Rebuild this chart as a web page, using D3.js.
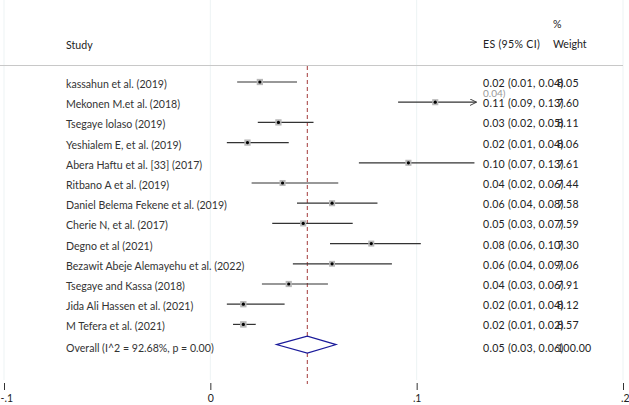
<!DOCTYPE html>
<html><head><meta charset="utf-8">
<script src="https://cdn.jsdelivr.net/npm/d3@7"></script>
<style>
html,body{margin:0;padding:0;background:#fff;}
svg{display:block;font-family:Lato,"Open Sans",sans-serif;}
</style></head>
<body>
<svg id="c" width="629" height="405"></svg>
<script>
const studies = ["kassahun et al. (2019)","Mekonen M.et al. (2018)","Tsegaye lolaso (2019)","Yeshialem E, et al. (2019)","Abera Haftu et al. [33]  (2017)","Ritbano A et al. (2019)","Daniel Belema Fekene et al.  (2019)","Cherie N, et al. (2017)","Degno et al (2021)","Bezawit Abeje Alemayehu et al. (2022)","Tsegaye and Kassa (2018)","Jida Ali Hassen et al. (2021)","M Tefera et al. (2021)"];
const es = [0.024,0.109,0.033,0.018,0.096,0.035,0.059,0.045,0.078,0.059,0.038,0.016,0.016];
const lo = [0.013,0.091,0.023,0.008,0.072,0.020,0.042,0.030,0.058,0.040,0.025,0.008,0.011];
const hi = [0.042,0.129,0.050,0.038,0.128,0.062,0.081,0.069,0.102,0.088,0.057,0.036,0.022];
const esText = ["0.02 (0.01, 0.04)","0.11 (0.09, 0.13)","0.03 (0.02, 0.05)","0.02 (0.01, 0.04)","0.10 (0.07, 0.13)","0.04 (0.02, 0.06)","0.06 (0.04, 0.08)","0.05 (0.03, 0.07)","0.08 (0.06, 0.10)","0.06 (0.04, 0.09)","0.04 (0.03, 0.06)","0.02 (0.01, 0.04)","0.02 (0.01, 0.02)"];
const weights = ["8.05","7.60","8.11","8.06","7.61","7.44","7.58","7.59","7.30","7.06","7.91","8.12","8.57"];
const arrowRows = [1];
const overall = {label:"Overall  (I^2 = 92.68%, p = 0.00)", es:0.047, lo:0.032, hi:0.061, text:"0.05 (0.03, 0.06)", weight:"100.00"};
const ticks = [-0.1,0,0.1,0.2];
const tickLabels = ["-.1","0",".1",".2"];

const svg = d3.select("#c");
const x = d3.scaleLinear().domain([-0.1,0.2]).range([4,623]);
const y = d3.scaleLinear().domain([0,13]).range([82,344.6]);
const wScale = d3.scaleSqrt().domain([0,10]).range([0,7]);

// faint gridlines
svg.selectAll(".grid").data(ticks).join("line")
  .attr("x1",d=>x(d)).attr("x2",d=>x(d)).attr("y1",0).attr("y2",380)
  .attr("stroke","#edf3f4").attr("stroke-width",1);

// header line
svg.append("line").attr("x1",0).attr("x2",623).attr("y1",65.5).attr("y2",65.5)
  .attr("stroke","#c8c8c8").attr("stroke-width",1);

const txt = (s,xx,yy,opt={}) => svg.append("text").attr("x",xx).attr("y",yy)
  .attr("dominant-baseline","central").attr("font-size",opt.size||10.6)
  .attr("letter-spacing",opt.ls||0)
  .attr("fill",opt.fill||"#222").text(s);

txt("Study",66,45);
txt("ES (95% CI)",483,44,{ls:0.3});
txt("%",553,24);
txt("Weight",553,44);

// dashed overall line
svg.append("line").attr("x1",x(overall.es)).attr("x2",x(overall.es))
  .attr("y1",66).attr("y2",384).attr("stroke","#a33a3a").attr("stroke-width",1)
  .attr("stroke-dasharray","4,3");

svg.append("defs").append("marker").attr("id","arr").attr("viewBox","0 0 10 10")
  .attr("refX",10).attr("refY",5).attr("markerWidth",7).attr("markerHeight",7)
  .attr("orient","auto").attr("markerUnits","userSpaceOnUse")
  .append("path").attr("d","M0,0 L10,5 L0,10").attr("fill","none").attr("stroke","#333").attr("stroke-width",1.3);

const rows = d3.range(studies.length);
// CI lines
svg.selectAll(".ci").data(rows).join("line")
  .attr("x1",i=>x(lo[i])).attr("x2",i=>x(hi[i]))
  .attr("y1",i=>y(i)).attr("y2",i=>y(i))
  .attr("stroke","#333").attr("stroke-width",1.2)
  .attr("marker-end",i=>arrowRows.includes(i)?"url(#arr)":null);
// weight boxes
svg.selectAll(".box").data(rows).join("rect")
  .attr("x",i=>x(es[i])-wScale(+weights[i])/2).attr("y",i=>y(i)-wScale(+weights[i])/2)
  .attr("width",i=>wScale(+weights[i])).attr("height",i=>wScale(+weights[i]))
  .attr("fill","#b8b8b8");
// point markers
svg.selectAll(".pt").data(rows).join("circle")
  .attr("cx",i=>x(es[i])).attr("cy",i=>y(i)).attr("r",1.6).attr("fill","#000");

// labels
rows.forEach(i=>{
  txt(studies[i],66,y(i)+2,{fill:"#333"});
  txt(esText[i],483,y(i)+1,{size:10.6,ls:0.25});
  txt(weights[i],557,y(i)+1,{size:10.6,ls:0.2});
});
// wrapped artifact from first row
txt("0.04)",483,y(0)+11,{fill:"#999",size:10});

// overall row
const oy = y(13);
txt(overall.label,66,oy+3,{fill:"#333"});
txt(overall.text,483,oy+3,{size:10.6,ls:0.25});
txt(overall.weight,557,oy+3,{size:10.6,ls:0.2});
svg.append("path")
  .attr("d",`M${x(overall.lo)},${oy} L${x(overall.es)},${oy-8.5} L${x(overall.hi)},${oy} L${x(overall.es)},${oy+8.5} Z`)
  .attr("fill","#fff").attr("stroke","#1a1a9a").attr("stroke-width",1.1);

// axis
const ax = svg.append("g").attr("transform","translate(0,383)")
  .call(d3.axisBottom(x).tickValues(ticks).tickSize(7).tickPadding(5)
    .tickFormat((d,i)=>tickLabels[i]));
ax.select(".domain").remove();
ax.selectAll("line").attr("stroke","#333");
ax.selectAll("text").attr("font-size",10.5).attr("fill","#222").attr("font-family","Lato,sans-serif");
ax.selectAll("text").filter((d,i)=>i===0).attr("text-anchor","start").attr("x",-4);
ax.selectAll("text").filter((d,i)=>i===ticks.length-1).attr("text-anchor","end").attr("x",6);
</script>
</body></html>
